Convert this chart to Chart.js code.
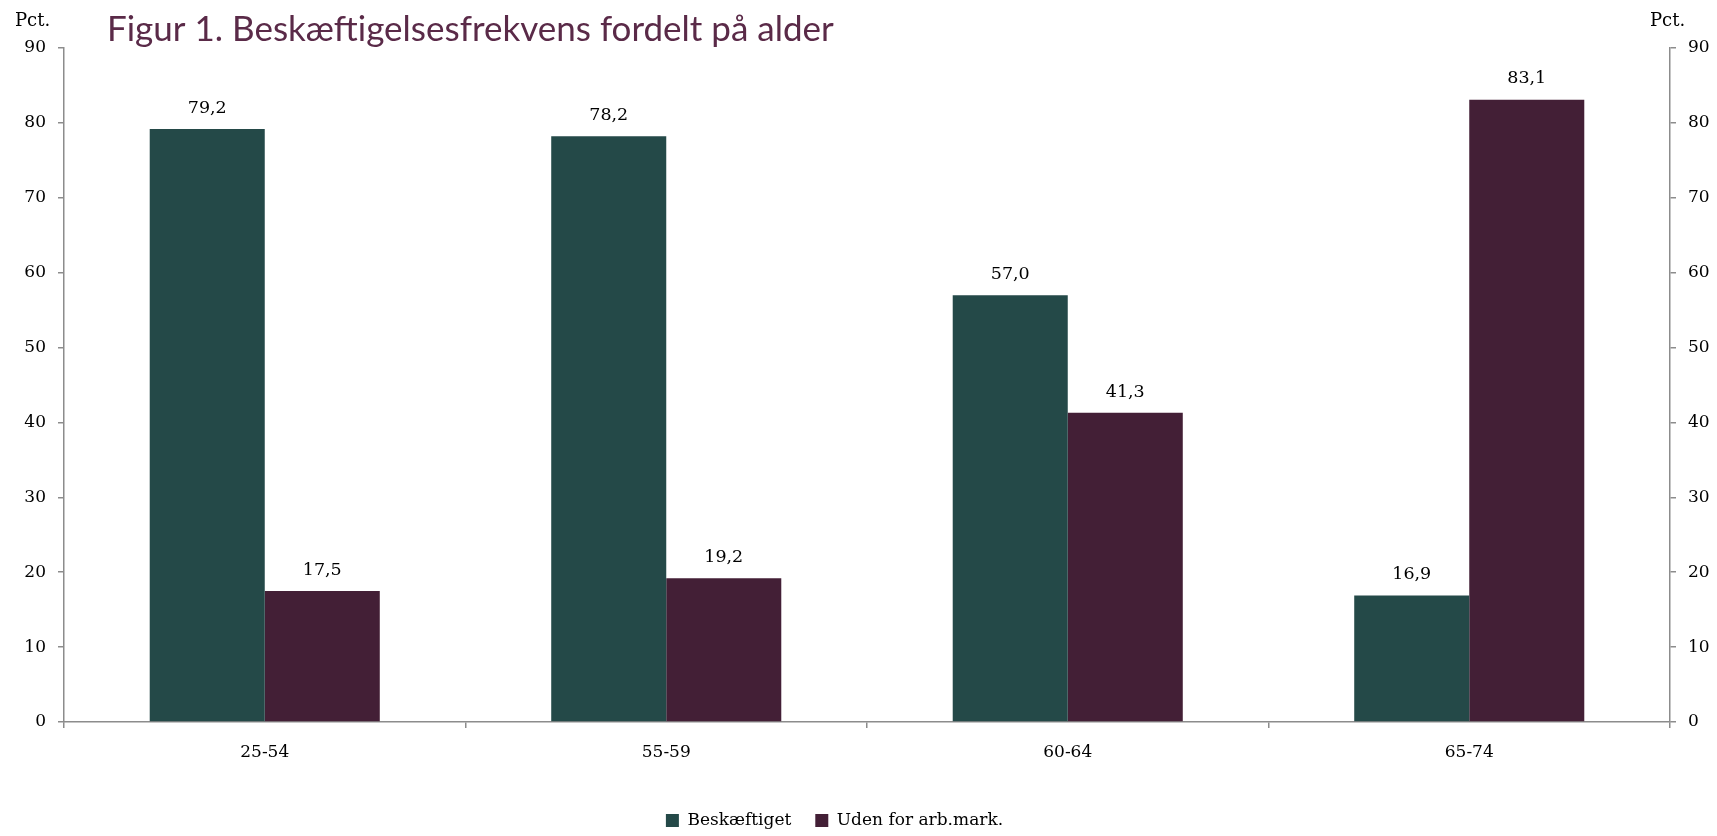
<!DOCTYPE html>
<html>
<head>
<meta charset="utf-8">
<script src="https://cdn.jsdelivr.net/npm/chart.js@4"></script>
<style>
  html, body { margin: 0; padding: 0; background: #fff; }
  #wrap { width: 1717px; height: 836px; position: relative; }
</style>
</head>
<body>
<div id="wrap"><canvas id="chart" width="1717" height="836"></canvas></div>
<script>
const ageGroups = ['25-54', '55-59', '60-64', '65-74'];
const employed = [79.2, 78.2, 57.0, 16.9];
const outsideLabour = [17.5, 19.2, 41.3, 83.1];
const yTicks = [0, 10, 20, 30, 40, 50, 60, 70, 80, 90];

const titleText = 'Figur 1. Beskæftigelsesfrekvens fordelt på alder';
const serif = '"DejaVu Serif", serif';
const axisGrey = '#8c8c8c';

// title, "Pct." labels and the value labels above the bars
const extras = {
    id: 'extras',
    afterLayout(chart) {
        // legend sits a bit left of centre and lower in the original
        chart.legend.left -= 24;
        chart.legend.right -= 24;
        chart.legend.top += 3;
        chart.legend.bottom += 3;
    },
    afterDatasetsDraw(chart) {
        const ctx = chart.ctx;
        ctx.save();
        ctx.fillStyle = '#5a2a48';
        ctx.font = '35px Lato, sans-serif';
        ctx.textBaseline = 'alphabetic';
        ctx.textAlign = 'left';
        ctx.fillText(titleText, 107, 41);

        ctx.fillStyle = '#000';
        ctx.font = '18px ' + serif;
        ctx.textAlign = 'left';
        ctx.fillText('Pct.', 15, 26);
        ctx.fillText('Pct.', 1650, 26);

        ctx.font = '17.5px ' + serif;
        ctx.textAlign = 'center';
        ctx.textBaseline = 'bottom';
        chart.data.datasets.forEach((ds, i) => {
            chart.getDatasetMeta(i).data.forEach((bar, j) => {
                ctx.fillText(ds.data[j].toFixed(1).replace('.', ','), bar.x, bar.y - 12);
            });
        });
        ctx.restore();
    }
};

const gridOpts = {
    drawOnChartArea: false,
    drawTicks: true,
    tickLength: 6,
    color: axisGrey,
    tickColor: axisGrey,
    lineWidth: 1.5
};

new Chart(document.getElementById('chart'), {
    type: 'bar',
    data: {
        labels: ageGroups,
        datasets: [
            {
                label: 'Beskæftiget',
                data: employed,
                backgroundColor: '#244948',
                barPercentage: 1,
                categoryPercentage: 0.573
            },
            {
                label: 'Uden for arb.mark.',
                data: outsideLabour,
                backgroundColor: '#431f36',
                barPercentage: 1,
                categoryPercentage: 0.573
            }
        ]
    },
    options: {
        responsive: false,
        animation: false,
        layout: { padding: { top: 48, left: 0, right: 0, bottom: 0 } },
        plugins: {
            legend: {
                position: 'bottom',
                labels: {
                    font: { family: serif, size: 17 },
                    color: '#000',
                    boxWidth: 13,
                    boxHeight: 13,
                    padding: 24
                }
            },
            tooltip: { enabled: false }
        },
        scales: {
            x: {
                grid: Object.assign({}, gridOpts, { offset: true }),
                border: { color: axisGrey, width: 1.5 },
                ticks: { font: { family: serif, size: 17 }, color: '#000', padding: 14 },
                afterFit(scale) { scale.height = 63; }
            },
            y: {
                position: 'left',
                min: 0,
                max: 90,
                afterBuildTicks(scale) { scale.ticks = yTicks.map(v => ({ value: v })); },
                grid: gridOpts,
                border: { color: axisGrey, width: 1.5 },
                ticks: { font: { family: serif, size: 17 }, color: '#000', padding: 12 },
                afterFit(scale) { scale.width = 64; }
            },
            y2: {
                position: 'right',
                min: 0,
                max: 90,
                afterBuildTicks(scale) { scale.ticks = yTicks.map(v => ({ value: v })); },
                grid: gridOpts,
                border: { color: axisGrey, width: 1.5 },
                ticks: { font: { family: serif, size: 17 }, color: '#000', padding: 12 },
                afterFit(scale) { scale.width = 47; }
            }
        }
    },
    plugins: [extras]
});
</script>
</body>
</html>
